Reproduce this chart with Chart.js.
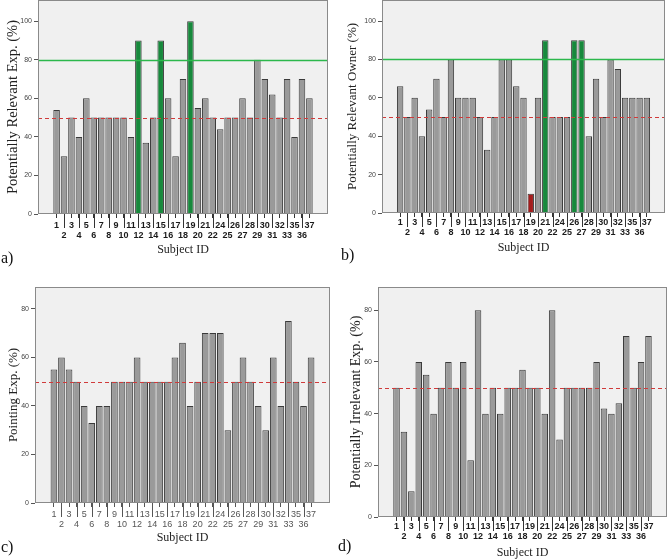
<!DOCTYPE html>
<html><head><meta charset="utf-8">
<script src="https://cdn.jsdelivr.net/npm/chart.js@4"></script>
<style>
html,body{margin:0;padding:0;background:#fff;}
body{width:669px;height:560px;position:relative;overflow:hidden;}
.panel{position:absolute;}
.panel canvas{display:block;}
.tag{position:absolute;font-family:'Liberation Serif',serif;font-size:16px;line-height:18px;color:#111;}
</style></head><body>
<div class="panel" style="left:0;top:0;width:334px;height:262px"><canvas id="ca" width="334" height="262"></canvas></div>
<div class="panel" style="left:335px;top:0;width:334px;height:260px"><canvas id="cb" width="334" height="260"></canvas></div>
<div class="panel" style="left:0;top:280px;width:334px;height:270px"><canvas id="cc" width="334" height="270"></canvas></div>
<div class="panel" style="left:335px;top:280px;width:334px;height:280px"><canvas id="cd" width="334" height="280"></canvas></div>
<div class="tag" style="left:1px;top:249px">a)</div>
<div class="tag" style="left:341px;top:246px">b)</div>
<div class="tag" style="left:1px;top:538px">c)</div>
<div class="tag" style="left:338px;top:537px">d)</div>
<script>
const subjectIds = [1,2,3,4,5,6,7,8,9,10,11,12,13,14,15,16,17,18,19,20,21,22,24,25,26,27,28,29,30,31,32,33,35,36,37];
const relevantExp   = [54,30,50,40,60,50,50,50,50,50,40,90,37,50,90,60,30,70,100,55,60,50,44,50,50,60,50,80,70,62,50,70,40,70,60];
const relevantOwner = [66,50,60,40,54,70,50,80,60,60,60,50,33,50,80,80,66,60,10,60,90,50,50,50,90,90,40,70,50,80,75,60,60,60,60];
const pointingExp   = [55,60,55,50,40,33,40,40,50,50,50,60,50,50,50,50,60,66,40,50,70,70,70,30,50,60,50,40,30,60,40,75,50,40,60];
const irrelevantExp = [50,33,10,60,55,40,50,60,50,60,22,80,40,50,40,50,50,57,50,50,40,80,30,50,50,50,50,60,42,40,44,70,50,60,70];
const greenSubjectsA = [12,15,19];
const greenSubjectsB = [21,26,27];
const redSubjectsB = [19];
const chanceLevel = 50;
const highLevel = 80;

const PAD = 2;
const GRAY = '#9a9a9a', GREEN = '#17893c', RED = '#a41c1c';

const panelDecor = {
  id: 'panelDecor',
  beforeDraw(chart) {
    const {ctx, chartArea: a} = chart;
    ctx.save();
    ctx.fillStyle = '#f0f0f0';
    ctx.fillRect(a.left, a.top, a.right - a.left, a.bottom - a.top);
    ctx.restore();
  },
  afterDatasetsDraw(chart, args, opts) {
    const {ctx, chartArea: a, scales: {x, y}} = chart;
    ctx.save();
    (opts.lines || []).forEach(l => {
      const py = Math.round(y.getPixelForValue(l.value)) + 0.5;
      ctx.strokeStyle = l.color; ctx.lineWidth = l.width; ctx.setLineDash(l.dash || []);
      ctx.beginPath(); ctx.moveTo(a.left, py); ctx.lineTo(a.right, py); ctx.stroke();
    });
    ctx.setLineDash([]);
    ctx.strokeStyle = '#8a8a8a'; ctx.lineWidth = 1;
    ctx.strokeRect(a.left + 0.5, a.top + 0.5, a.right - a.left - 1, a.bottom - a.top - 1);
    ctx.strokeStyle = opts.tickColor || '#333';
    subjectIds.forEach((id, i) => {
      if (i % 2 === 1) {
        const px = Math.round(x.getPixelForValue(i + PAD)) + 0.5;
        ctx.beginPath(); ctx.moveTo(px, a.bottom); ctx.lineTo(px, a.bottom + opts.longTick); ctx.stroke();
      }
    });
    ctx.restore();
  }
};

function buildChart(id, cfg) {
  const labels = ['', '', ...subjectIds.map(String), '', ''];
  const values = [null, null, ...cfg.values, null, null];
  const colors = labels.map((l, i) => {
    const k = i - PAD;
    if (k < 0 || k >= subjectIds.length) return GRAY;
    const sid = subjectIds[k];
    if ((cfg.green || []).includes(sid)) return GREEN;
    if ((cfg.red || []).includes(sid)) return RED;
    return GRAY;
  });
  const isReal = i => i - PAD >= 0 && i - PAD < subjectIds.length;
  const lines = [{value: chanceLevel, color: '#d03a3a', width: 1, dash: [4, 3]}];
  if (cfg.high) lines.push({value: highLevel, color: '#2cb84c', width: 1.6});
  new Chart(document.getElementById(id), {
    type: 'bar',
    data: {labels, datasets: [{data: values, backgroundColor: colors, borderColor: '#3a3a3a', borderWidth: 1,
      categoryPercentage: 1, barPercentage: 0.88}]},
    options: {
      responsive: false, animation: false, devicePixelRatio: 1,
      layout: {padding: {top: cfg.padTop, right: cfg.padRight, left: 0, bottom: 0}, autoPadding: false},
      plugins: {legend: {display: false}, tooltip: {enabled: false},
        panelDecor: {lines, longTick: 14, tickColor: cfg.tickColor}},
      scales: {
        x: {
          type: 'category', offset: true,
          grid: {display: true, drawOnChartArea: false, drawTicks: true, tickLength: 4, offset: false,
            color: c => isReal(c.index) ? cfg.tickColor : 'rgba(0,0,0,0)',
            tickColor: c => isReal(c.index) ? cfg.tickColor : 'rgba(0,0,0,0)'},
          border: {display: false},
          ticks: {autoSkip: false, maxRotation: 0, minRotation: 0, padding: cfg.xPad, color: cfg.xColor,
            font: {family: 'Liberation Sans', size: 9, weight: cfg.xWeight, lineHeight: 1.1},
            callback: (v, i) => {
              const k = i - PAD;
              if (k < 0 || k >= subjectIds.length) return '';
              return k % 2 === 0 ? String(subjectIds[k]) : ['', String(subjectIds[k])];
            }},
          title: {display: true, text: 'Subject ID', color: '#222',
            font: {family: 'Liberation Serif', size: 12, lineHeight: 1.2}, padding: {top: 0, bottom: cfg.subjPad}},
          afterFit(s) { s.height = cfg.xH; s.paddingLeft = 0; s.paddingRight = 0; }
        },
        y: {
          min: 0, max: cfg.ymax,
          grid: {drawOnChartArea: false, drawTicks: true, tickLength: 4, tickColor: '#555', color: '#555'},
          border: {display: false},
          ticks: {stepSize: 20, includeBounds: false, padding: 2, color: '#444',
            font: {family: 'Liberation Sans', size: 7}},
          title: {display: true, text: cfg.title, color: '#222',
            font: {family: 'Liberation Serif', size: cfg.titleSize, lineHeight: 1.2}, padding: {top: cfg.titlePad, bottom: 0}},
          afterFit(s) { s.width = cfg.yW; s.paddingTop = 0; s.paddingBottom = 0; }
        }
      }
    },
    plugins: [panelDecor]
  });
}

buildChart('ca', {values: relevantExp, green: greenSubjectsA, high: true, ymax: 111,
  title: 'Potentially Relevant Exp. (%)', titleSize: 14.5, padTop: 0, padRight: 6, yW: 38, titlePad: 4,
  xH: 48, xPad: 3, subjPad: 5, xWeight: 'bold', xColor: '#1a1a1a', tickColor: '#333'});
buildChart('cb', {values: relevantOwner, green: greenSubjectsB, red: redSubjectsB, high: true, ymax: 111,
  title: 'Potentially Relevant Owner (%)', titleSize: 13, padTop: 0, padRight: 4, yW: 47, titlePad: 10,
  xH: 47, xPad: 1, subjPad: 5, xWeight: 'bold', xColor: '#1a1a1a', tickColor: '#333'});
buildChart('cc', {values: pointingExp, ymax: 89,
  title: 'Pointing Exp. (%)', titleSize: 13, padTop: 7, padRight: 4, yW: 35, titlePad: 6,
  xH: 47, xPad: 3, subjPad: 5, xWeight: 'normal', xColor: '#555', tickColor: '#555'});
buildChart('cd', {values: irrelevantExp, ymax: 89,
  title: 'Potentially Irrelevant Exp. (%)', titleSize: 14, padTop: 7, padRight: 2, yW: 43, titlePad: 13,
  xH: 43, xPad: 1, subjPad: 0, xWeight: 'bold', xColor: '#1a1a1a', tickColor: '#333'});
</script>
</body></html>
